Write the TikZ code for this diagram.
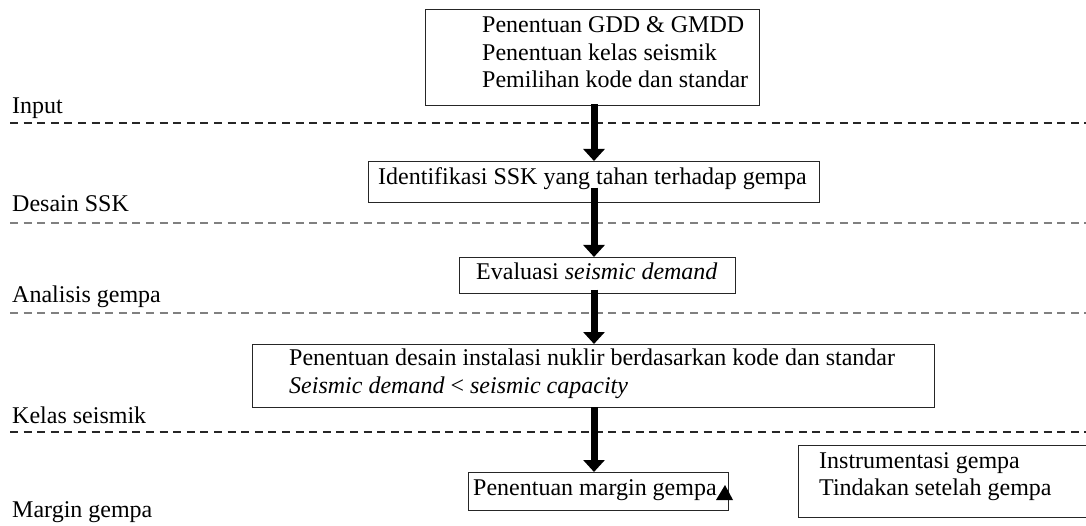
\documentclass[tikz,border=0pt]{standalone}
\usepackage{fontspec}
\setmainfont{Liberation Serif}
\usetikzlibrary{arrows.meta,calc}
\begin{document}
\begin{tikzpicture}[x=1pt,y=-1pt,
  box/.style={draw=black!85,line width=1.1pt,inner sep=0pt,anchor=north west},
  txt/.style={inner sep=0pt,anchor=base west,font=\fontsize{24}{28}\selectfont},
  bigarrow/.style={line width=7pt,-{Triangle[width=21pt,length=12pt]}},
  sepblack/.style={line width=1.8pt,dash pattern=on 8pt off 5.6pt,black!85},
  sepgray/.style={line width=1.8pt,dash pattern=on 8pt off 5.6pt,black!50}]
\useasboundingbox (0,0) rectangle (1086,526);
\clip (0,0) rectangle (1086,526);

% separators
\draw[sepblack] (10,123) -- (1086,123);
\draw[sepgray]  (10,223) -- (1086,223);
\draw[sepgray]  (10,313) -- (1086,313);
\draw[sepblack] (10,432) -- (1086,432);

% stage labels
\node[txt] (lin) at (12,114) {Input};
\node[txt] (lds) at (12,212) {Desain SSK};
\node[txt] (lag) at (12,303) {Analisis gempa};
\node[txt] (lks) at (12,423) {Kelas seismik};
\node[txt] (lmg) at (12,517) {Margin gempa};

% boxes
\node[box,minimum width=334pt,minimum height=96pt] (top) at (425,9) {};
\node[box,minimum width=451pt,minimum height=41pt] (ident) at (368,161) {};
\node[box,minimum width=276pt,minimum height=36pt] (eval) at (459,257) {};
\node[box,minimum width=682pt,minimum height=63pt] (desain) at (252,344) {};
\node[box,minimum width=260pt,minimum height=38pt] (margin) at (468,472) {};
\node[box,minimum width=300pt,minimum height=72pt] (instr) at (798,445) {};

% box texts
\node[txt] (t1) at (482,33) {Penentuan GDD \& GMDD};
\node[txt] (t2) at (482,61) {Penentuan kelas seismik};
\node[txt] (t3) at (482,88) {Pemilihan kode dan standar};
\node[txt] (t4) at (378,185) {Identifikasi SSK yang tahan terhadap gempa};
\node[txt] (t5) at (476,280) {Evaluasi \textit{seismic demand}};
\node[txt] (t6) at (289,365) {Penentuan desain instalasi nuklir berdasarkan kode dan standar};
\node[txt] (t7) at (289,393) {\textit{Seismic demand} < \textit{seismic capacity}};
\node[txt] (t8) at (473,495) {Penentuan margin gempa};
\node[txt] (t9) at (819,468) {Instrumentasi gempa};
\node[txt] (t10) at (819,495) {Tindakan setelah gempa};

% arrows
\coordinate (axis) at (594,0);
\draw[bigarrow] ($(axis |- top.south)+(0,-2)$) -- (axis |- ident.north);
\draw[bigarrow] ($(axis |- ident.center)+(0,5.5)$) -- (axis |- eval.north);
\draw[bigarrow] ($(axis |- eval.center)+(0,14)$) -- (axis |- desain.north);
\draw[bigarrow] ($(axis |- desain.south)+(0,-1)$) -- (axis |- margin.north);

% stray arrowhead at the margin box
\fill (716,500) -- (725,485) -- (733,500) -- cycle;
\end{tikzpicture}
\end{document}
